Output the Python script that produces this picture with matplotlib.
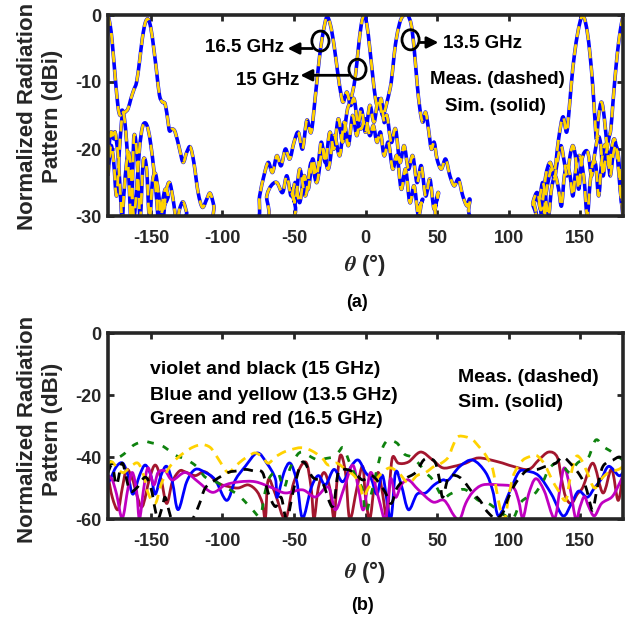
import numpy as np
import matplotlib
matplotlib.use("Agg")
import matplotlib.pyplot as plt
from matplotlib.patches import Ellipse, PathPatch
from matplotlib.path import Path

plt.rcParams['font.family'] = ['Liberation Sans', 'DejaVu Sans']
plt.rcParams['font.weight'] = 'bold'
plt.rcParams['mathtext.fontset'] = 'stix'
plt.rcParams['axes.unicode_minus'] = False

# ---------------- (a) co-pol patterns, (theta deg, dB) pairs -----------------
sim_15 = [(-180, 0), (-178.5, -1.5), (-177, -4.2), (-175, -9.2), (-173, -13.7), (-171.5, -15), (-170, -14.2),
          (-168.5, -15.5), (-167, -19), (-165.5, -24), (-164, -30.5), (-163, -26), (-162, -18.4), (-160.5, -19),
          (-159, -24), (-157.5, -30.5), (-156, -24), (-155, -21.4), (-153, -23), (-151, -30.5), (-149, -25),
          (-147, -23.6), (-145, -26), (-142, -31), (-139.5, -26.5), (-137, -25), (-134.5, -27.5), (-132, -31),
          (-130, -29), (-127.5, -27.9), (-125, -29.5), (-123, -31),
          (-72, -31), (-69, -27), (-66, -25.5), (-62, -25), (-58, -26.5), (-55, -24), (-52, -27), (-49, -25),
          (-46, -28), (-43, -24), (-40, -26), (-37, -21.5), (-34, -24), (-31, -19), (-28, -22), (-25, -17.5),
          (-22, -20), (-19, -15.5), (-16, -19), (-13, -14.5), (-11, -13), (-9, -11.5), (-7, -9), (-5, -5),
          (-3, -1.5), (-1, 0), (1, -1.5), (3, -5), (5, -9), (7, -12.5), (9, -14), (11, -12.5), (13, -16),
          (15, -15), (18, -19), (21, -17), (24, -22), (27, -19.5), (30, -23), (33, -21), (36, -25), (39, -22.5),
          (42, -27), (45, -24.5), (48, -29), (51, -26.5), (54, -31),
          (114, -31), (117, -28), (120, -26.5), (122, -28.5), (124, -31), (126, -27), (128, -24.5), (130, -23),
          (132, -24.5), (134, -22), (136.6, -19.5), (139, -22), (141, -24), (143, -21), (145, -19.5),
          (147, -21.5), (149, -26), (151, -22), (153, -20.5), (155.6, -20.6), (158, -24), (160, -21),
          (162.6, -18.2), (164.5, -19.5), (166, -24), (168, -21), (170, -18.5), (171.5, -17), (173, -13),
          (175, -8), (177, -4), (179, -1.2), (180, -0.3)]

sim_165 = [(-180, -24), (-178, -19.5), (-176, -22), (-174, -27), (-172, -20), (-170, -15), (-168, -14.5),
           (-166, -14), (-164, -12.5), (-162, -11.2), (-160, -10), (-158, -7), (-156, -3.5), (-154, -1.2),
           (-152, -0.6), (-150, -2), (-148, -5), (-146, -8.5), (-144, -12), (-142, -13), (-140, -13.3),
           (-138, -16), (-137, -17.3), (-135, -17), (-133, -17.5), (-130, -20), (-127.5, -22), (-125, -20.5),
           (-122.5, -19.7), (-120, -22), (-117, -26.5), (-114, -28.7), (-111, -27.5), (-108.6, -26.6),
           (-106, -28.5), (-104, -31),
           (-77, -31), (-74, -27), (-71, -24), (-68, -22), (-65, -23.5), (-62, -21), (-59, -22.5), (-56, -20),
           (-53, -21.5), (-50, -19), (-47, -17.5), (-44, -20), (-41, -15.7), (-38, -17.5), (-35, -12),
           (-32, -6), (-29.5, -2.5), (-27, -0.3), (-24.5, -1.5), (-22, -4.5), (-19.5, -8.5), (-17, -12),
           (-15.5, -13), (-13, -11.5), (-10.5, -13.5), (-8, -12.5), (-5.5, -16), (-3, -17), (0, -15.5),
           (3, -18), (5.5, -16.5), (8, -19), (10.5, -17.5), (13, -21), (16, -19), (19, -23), (22, -21),
           (25, -26), (28, -23), (31, -28), (34, -25.5), (37, -30), (40, -27.5), (43, -31),
           (119, -31), (122, -27), (124, -25), (126, -27.5), (128, -30), (130, -26), (132.5, -24), (135, -26),
           (137, -28.5), (139, -24), (141, -22.5), (143, -24), (145, -27), (147, -23), (149, -21), (151, -22),
           (153, -25), (155, -30), (157, -25), (159, -22), (161, -22.5), (163, -27), (165, -22), (167, -19.5),
           (169, -20), (171, -24), (173, -21), (175, -19.5), (177, -21.5), (179, -28), (180, -25)]

sim_135 = [(-180, -21), (-178, -17.5), (-176, -18.5), (-175, -17.5), (-173, -21), (-171, -28), (-170, -31),
           (-169, -27), (-167, -22), (-165.5, -20.5), (-164, -23), (-162, -30), (-160, -26), (-158, -20),
           (-156, -16.8), (-154, -16.1), (-152, -17), (-150, -19.5), (-148, -23), (-146, -27.5), (-144.5, -31),
           (-142, -28), (-140, -26), (-138, -27), (-136, -31),
           (-56, -31), (-52, -26), (-49, -28), (-46, -23), (-42, -27), (-38, -22), (-34, -25), (-30, -20),
           (-26, -23), (-22, -18), (-18, -21), (-15, -16), (-12, -19.5), (-9, -15), (-6, -18), (-3, -14),
           (0, -17.5), (3, -13.5), (6, -16), (9, -12.5), (12, -15), (15, -13), (18, -10), (20, -6), (22, -3),
           (24.5, -0.8), (27, 0), (29.5, 0), (32, -1.5), (34, -5), (36, -10), (38, -14), (40, -16), (42, -14.5),
           (44, -17), (46, -20), (48, -19), (50, -21.5), (53, -23), (56, -21.5), (59, -24), (62, -25.5),
           (65, -24.5), (68, -27), (71, -28.5), (73, -27.5), (76, -30.5),
           (116, -31), (118, -28), (120.5, -27.5), (123, -29), (126, -24), (129, -22), (132, -23.5),
           (135, -18.5), (138, -15.2), (140.5, -17.5), (142, -15), (144, -10), (146, -6), (148.5, -2.5),
           (151, -0.3), (153, -0.5), (155, -2.5), (157, -6), (159, -11), (160.5, -16), (161.5, -18.5),
           (163, -15), (165, -13), (167, -15.5), (169, -20), (170.5, -23), (172, -20), (174, -18.5),
           (176, -21), (178, -26), (180, -30)]

# ---------------- (b) cross-pol patterns -----------------
sim_blue = [(-180, -48), (-178.7, -47.4), (-174, -43), (-169.6, -42), (-166, -46), (-162.6, -52), (-158, -46),
            (-154, -42.6), (-150, -46), (-147, -52), (-143, -46), (-139, -43), (-135, -48), (-131, -57),
            (-125, -48), (-119, -44), (-112, -45), (-105, -47.4), (-97, -54), (-91, -47.4), (-84, -43),
            (-75.7, -38.7), (-69, -42), (-63, -47), (-61.7, -53), (-57, -45), (-52.6, -42), (-48, -48),
            (-44, -59.7), (-38, -50), (-33, -46), (-28, -49), (-22, -44), (-16, -48), (-10, -43), (-5, -41),
            (0, -45), (4, -47), (8, -52), (12, -46), (17.5, -60), (21, -45), (25, -49), (30, -57), (36, -52),
            (42, -51.6), (48, -49), (54, -47.4), (58, -47.4), (66, -43), (75, -41), (84, -45), (89, -51),
            (93, -59), (100, -52), (107, -45), (112, -44.5), (121, -46), (130, -52), (138, -59), (144, -55),
            (149, -51), (155, -53), (160, -50), (165, -47), (170, -43), (177, -46), (180, -45)]

sim_violet = [(-180, -46), (-177, -47.4), (-174, -52), (-170, -59.7), (-166, -50), (-163, -45), (-160, -51),
              (-158, -60), (-155, -50), (-152, -43.5), (-148, -49), (-145, -45), (-140, -44.5), (-135, -47.4),
              (-126, -45), (-117, -48), (-107, -51.4), (-98, -49), (-88, -48), (-77, -48), (-65, -50),
              (-56, -51.6), (-44, -50.6), (-35, -52.9), (-26, -49.7), (-21, -57), (-15, -50), (-9, -42.6),
              (-5, -50), (-1.4, -57), (3.5, -45), (9, -53), (14, -60), (17.5, -47), (21, -53), (25, -49),
              (30, -47.4), (37, -50.6), (47, -54.5), (55, -54), (62, -59), (66, -60), (70, -55), (75, -51.3),
              (82, -49), (93, -49), (103, -49.7), (107, -54), (110, -59.7), (114, -52), (119, -47), (125, -51),
              (132, -59.7), (136, -50), (139, -43.5), (143, -50), (147, -60), (150, -56), (153, -52.8),
              (156, -56), (160, -59), (165, -55), (172, -53), (176, -50), (180, -46)]

sim_red = [(-180, -46), (-177, -53), (-173, -57), (-170, -50), (-167, -44), (-163, -47), (-160, -52),
           (-156, -56), (-151, -47), (-147, -42.6), (-143, -47), (-139, -55), (-135, -48), (-130, -44.5),
           (-126, -44.8), (-119, -46), (-112, -44.8), (-103, -48.4), (-96, -49.5), (-89, -50), (-82, -49),
           (-76, -51), (-72, -55), (-70, -60), (-68, -47.4), (-63, -52), (-56, -60), (-50, -48), (-42, -41.6),
           (-38, -50), (-36, -60), (-33, -50), (-29, -45), (-25, -50), (-22, -60), (-20, -48), (-17.5, -39.4),
           (-14, -45), (-11, -60), (-6, -50), (-2, -43), (0, -53), (3, -60), (6, -50), (9, -45), (12, -52),
           (15, -60), (17, -48), (19, -40), (23, -42), (30, -41.6), (38.5, -38.4), (47, -41), (54, -43.5),
           (62, -43), (70, -42), (79, -40.3), (93, -41.6), (103, -43), (114, -44), (121, -41), (128, -38.4),
           (134, -40), (137, -47), (140, -53), (144, -55), (148, -52), (152, -49.7), (159, -42), (166, -51.6),
           (172, -44), (176.6, -54), (180, -45)]

meas_green = [(-180, -43), (-177, -41), (-172, -40), (-168, -38.7), (-163, -36.5), (-159, -35.5), (-154, -35),
              (-149, -35.5), (-144, -36), (-140, -37), (-133, -39.4), (-127, -40.5), (-121, -42), (-116, -44),
              (-112, -46.5), (-103, -48.4), (-97, -50), (-91, -51.6), (-85, -54), (-79, -57), (-73.6, -59),
              (-70.5, -52), (-68, -47.4), (-64, -45), (-61, -45), (-57, -50), (-53, -44), (-48, -39.5),
              (-44, -38.4), (-38, -40), (-33, -41), (-28, -40.5), (-23, -40), (-19, -38.5), (-15.4, -37),
              (-11, -42), (-6, -47), (-2, -50.6), (0, -58), (4, -52), (8, -44), (12, -37), (16, -34.5),
              (20, -35), (23, -36), (27, -39), (32, -40), (37, -42), (42, -45), (47, -47.4), (54, -53), (59, -52),
              (64, -51), (70, -50.6), (79, -54), (86, -55), (92, -57), (98, -59), (103, -60), (108, -55),
              (113, -53), (118, -52), (124, -48), (128, -44), (133, -42), (138, -43), (143, -45), (148, -42),
              (152, -41), (156, -40), (161, -34.5), (166, -36.6), (171, -38), (177, -40), (180, -41)]

meas_yellow = [(-180, -42), (-177, -41.6), (-173, -44), (-169, -45), (-164, -43), (-159, -42), (-155, -46),
               (-152, -51.6), (-147, -55), (-143, -49), (-138, -44), (-133, -41), (-128, -39), (-124, -37.7),
               (-119, -36.5), (-114, -36), (-110, -36.5), (-107, -37.7), (-101, -42), (-96, -45), (-91, -43),
               (-86, -41), (-81, -39.5), (-77, -38.7), (-72, -40), (-68, -42), (-63, -40), (-57, -38.4),
               (-51, -37.5), (-45.5, -37), (-40, -37.5), (-35, -38.7), (-30, -40.5), (-26, -42.6), (-20, -42),
               (-14, -44), (-8, -46), (-4, -49), (-1.4, -53), (2, -50), (7, -47.4), (12, -45), (17, -43.5),
               (23, -45), (30, -48.4), (36, -46), (42, -45), (48, -43), (53, -42), (58, -40), (61, -36.5),
               (64.5, -33.5), (70, -33.5), (75, -34.5), (79, -36.5), (83, -38.7), (86, -41), (89, -44),
               (92.5, -53), (96, -60), (98, -59), (100, -53), (103, -46.5), (106, -43.5), (110, -41), (114, -40),
               (119, -39.4), (123, -41), (126, -43), (130, -47), (135, -51), (140, -54), (143, -47), (147, -40),
               (151, -41), (155, -45), (160, -50), (165, -47), (170, -45), (177, -44), (180, -43)]

meas_black = [(-180, -45), (-177, -42.6), (-174, -49), (-170, -42), (-165, -50.6), (-160, -50), (-154, -46.5),
              (-150, -50), (-147, -57), (-145, -60), (-142, -56), (-140, -53), (-137, -58), (-134, -62),
              (-128, -62), (-121, -60), (-116, -55), (-112, -50), (-105, -47.4), (-96, -45), (-90, -44.5),
              (-84, -44), (-78, -44.5), (-72, -45), (-68, -51.6), (-63, -56), (-59, -53), (-55, -60), (-50, -50),
              (-44, -41.6), (-37, -46.5), (-30, -48.4), (-23, -56), (-19, -45), (-14, -44), (-8, -45),
              (-2, -47.4), (4, -46), (9, -48), (14, -51.6), (18, -55), (22, -50), (28, -47), (35, -45),
              (40.6, -41), (45, -40.5), (49, -42), (52, -48), (54, -53), (58, -46.5), (63, -46), (68, -47.4),
              (75, -51.6), (80, -54), (84, -57), (88, -59), (91, -60), (96, -58), (100, -53), (105, -48.4),
              (110, -45.5), (114, -44), (120, -44), (126, -43), (133, -42), (138, -40), (145, -43), (150, -46),
              (154, -49.7), (157, -55), (159, -57), (162, -50), (166, -43), (173, -41), (177, -40), (180, -40.5)]

xticks = [-150, -100, -50, 0, 50, 100, 150]
yticks_a = [0, -10, -20, -30]
yticks_b = [0, -20, -40, -60]


def smooth_curve(ax, pairs, **kw):
    """Draw the measured points as one smooth (Catmull-Rom) curve in data coordinates."""
    p = np.asarray(pairs, dtype=float)
    ext = np.vstack([p[0], p, p[-1]])
    verts = [p[0]]
    codes = [Path.MOVETO]
    for i in range(len(p) - 1):
        p0, p1, p2, p3 = ext[i], ext[i + 1], ext[i + 2], ext[i + 3]
        verts += [p1 + (p2 - p0) / 6.0, p2 - (p3 - p1) / 6.0, p2]
        codes += [Path.CURVE4] * 3
    patch = PathPatch(Path(verts, codes), fill=False, capstyle='butt', joinstyle='round', **kw)
    ax.add_patch(patch)
    return patch


W, H = 635, 618
fig = plt.figure(figsize=(W / 100, H / 100), dpi=100)
axA = fig.add_axes([108 / W, 1 - 216 / H, 515 / W, 201 / H])
axB = fig.add_axes([108 / W, 1 - 519 / H, 515 / W, 186 / H])

dark = '#262626'
blue = '#0000ff'
gold = '#ffd200'

for ax, yt in ((axA, yticks_a), (axB, yticks_b)):
    ax.set_xlim(-180, 180)
    ax.set_ylim(min(yt), max(yt))
    ax.set_xticks(xticks)
    ax.set_yticks(yt)
    ax.tick_params(direction='in', length=4, width=2, colors=dark, top=True, right=True,
                   labelsize=13, pad=5)
    ax.tick_params(axis='x', pad=10)
    for lab in ax.get_xticklabels() + ax.get_yticklabels():
        lab.set_fontweight('bold')
    for s in ax.spines.values():
        s.set_linewidth(2.6)
        s.set_color(dark)
        s.set_zorder(10)

# (a)
for pairs in (sim_15, sim_165, sim_135):
    smooth_curve(axA, pairs, ec=blue, lw=2.6, zorder=2)
for pairs in (sim_15, sim_165, sim_135):
    smooth_curve(axA, pairs, ec=gold, lw=2.0, ls=(0, (4.0, 2.6)), zorder=3)

circ_kw = dict(fill=False, ec='black', lw=2.0, zorder=5)
axA.add_patch(Ellipse((-31.5, -3.9), 12, 3.0, **circ_kw))
axA.add_patch(Ellipse((-5.6, -8.1), 12, 3.0, **circ_kw))
axA.add_patch(Ellipse((31.5, -3.7), 12, 3.0, **circ_kw))
arr = dict(arrowstyle='-|>', color='black', lw=2.0, mutation_scale=17, shrinkA=0, shrinkB=0)
axA.annotate('', xy=(-54.5, -5.0), xytext=(-37, -5.0), arrowprops=arr, zorder=6)
axA.annotate('', xy=(-45.5, -9.0), xytext=(-11.6, -9.0), arrowprops=arr, zorder=6)
axA.annotate('', xy=(51.0, -4.1), xytext=(37.8, -4.1), arrowprops=arr, zorder=6)
tk = dict(fontsize=13.5, fontweight='bold', color='black', zorder=7)
axA.text(-57.2, -4.9, '16.5 GHz', ha='right', va='center', **tk)
axA.text(-46.5, -9.8, '15 GHz', ha='right', va='center', **tk)
axA.text(54.5, -4.2, '13.5 GHz', ha='left', va='center', **tk)
axA.text(92.5, -9.7, 'Meas. (dashed)', ha='center', va='center', **tk)
axA.text(91.0, -13.6, 'Sim. (solid)', ha='center', va='center', **tk)

# (b)
smooth_curve(axB, sim_red, ec='#a3162e', lw=2.0, zorder=2)
smooth_curve(axB, sim_blue, ec=blue, lw=2.0, zorder=3)
smooth_curve(axB, sim_violet, ec='#c000c0', lw=2.0, zorder=4)
smooth_curve(axB, meas_green, ec='#0e820e', lw=2.0, ls=(0, (2.4, 3.4)), zorder=5)
smooth_curve(axB, meas_yellow, ec=gold, lw=2.0, ls=(0, (3.6, 2.4)), zorder=5)
smooth_curve(axB, meas_black, ec='black', lw=2.0, ls=(0, (3.4, 2.6)), zorder=6)

tb = dict(fontsize=14, fontweight='bold', color='black', ha='left', va='center', zorder=7)
axB.text(-150.7, -11.9, 'violet and black (15 GHz)', **tb)
axB.text(-150.7, -20.0, 'Blue and yellow (13.5 GHz)', **tb)
axB.text(-150.7, -28.0, 'Green and red (16.5 GHz)', **tb)
axB.text(64.5, -14.2, 'Meas. (dashed)', **tb)
axB.text(64.5, -22.3, 'Sim. (solid)', **tb)

# labels
for yc in (116, 429):
    fig.text(40 / W, 1 - yc / H, 'Normalized Radiation\nPattern (dBi)', rotation=90, ha='center', va='center',
             fontsize=16, fontweight='bold', color=dark, linespacing=1.3, multialignment='center')
for yc in (265, 572):
    fig.text(365 / W, 1 - yc / H, r'$\theta$ (°)', ha='center', va='center', fontsize=16,
             fontweight='bold', color=dark)
fig.text(357 / W, 1 - 302 / H, '(a)', ha='center', va='center', fontsize=13, fontweight='bold', color='black')
fig.text(362 / W, 1 - 605 / H, '(b)', ha='center', va='center', fontsize=13, fontweight='bold', color='black')

fig.savefig('out.png', dpi=100)
